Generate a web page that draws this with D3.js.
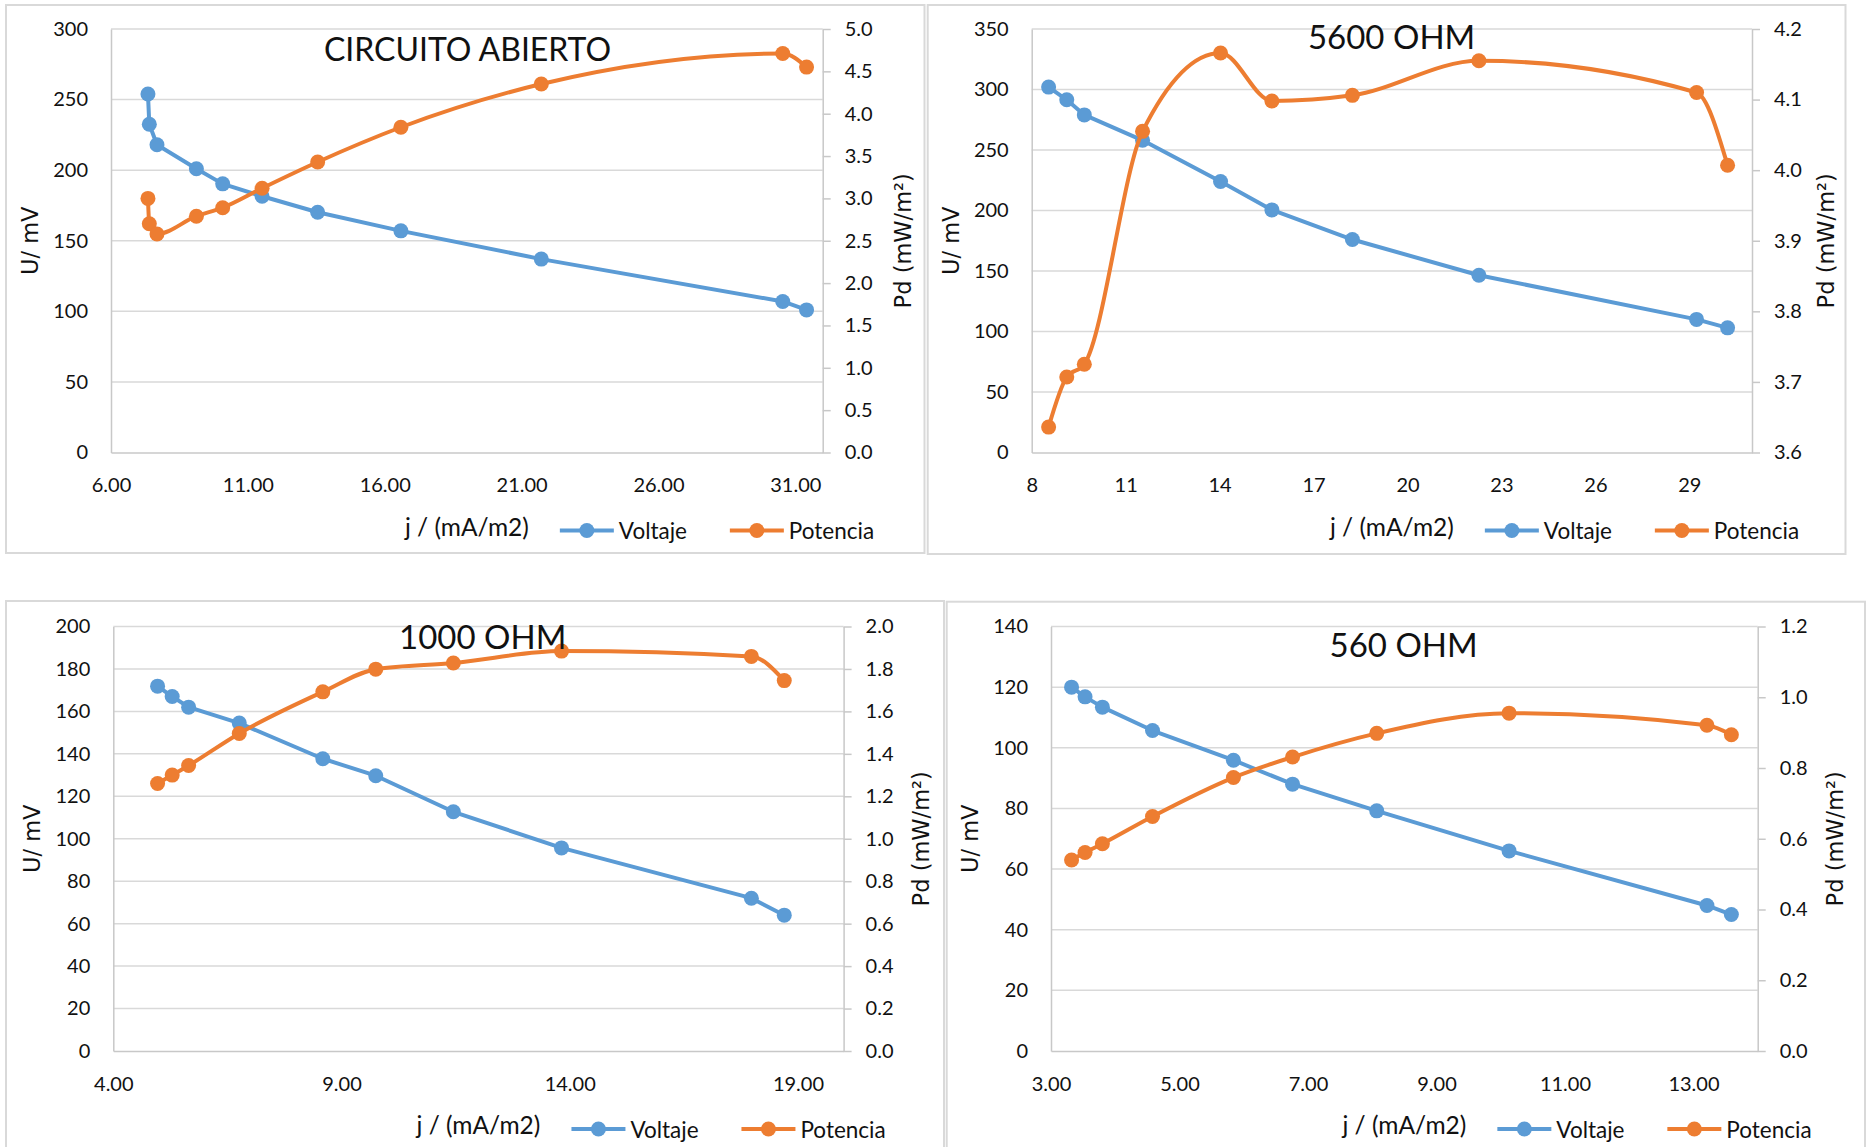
<!DOCTYPE html>
<html>
<head>
<meta charset="utf-8">
<script src="https://cdn.jsdelivr.net/npm/d3@7/dist/d3.min.js"></script>
<style>
  body { margin: 0; background: #fff; }
  svg { display: block; }
</style>
</head>
<body>
<svg id="chart" width="1872" height="1147"></svg>
<script>
// ---- Circuito abierto ----
const jOpen = [7.35, 7.40, 7.68, 9.12, 10.08, 11.52, 13.55, 16.59, 21.72, 30.54, 31.41];
const uOpen = [254, 232.5, 218, 201, 190.3, 181.5, 170.2, 157, 137, 107, 101];
const pOpen = [3.00, 2.70, 2.58, 2.79, 2.89, 3.12, 3.43, 3.84, 4.35, 4.71, 4.55];
const xTicksOpen = [6, 11, 16, 21, 26, 31];
const uTicksOpen = [0, 50, 100, 150, 200, 250, 300];
const pTicksOpen = [0, 0.5, 1, 1.5, 2, 2.5, 3, 3.5, 4, 4.5, 5];

// ---- 5600 ohm ----
const j5600 = [8.54, 9.12, 9.68, 11.54, 14.03, 15.67, 18.24, 22.28, 29.23, 30.22];
const u5600 = [302, 291.5, 279, 258, 224, 200.5, 176, 146.5, 110, 103];
const p5600 = [3.636, 3.707, 3.725, 4.055, 4.166, 4.098, 4.106, 4.155, 4.110, 4.007];
const xTicks5600 = [8, 11, 14, 17, 20, 23, 26, 29];
const uTicks5600 = [0, 50, 100, 150, 200, 250, 300, 350];
const pTicks5600 = [3.6, 3.7, 3.8, 3.9, 4.0, 4.1, 4.2];

// ---- 1000 ohm ----
const j1000 = [4.97, 5.29, 5.65, 6.76, 8.59, 9.75, 11.45, 13.82, 17.98, 18.70];
const u1000 = [171.9, 167, 162, 154.5, 137.7, 129.7, 112.7, 95.7, 72, 64];
const p1000 = [1.26, 1.30, 1.345, 1.496, 1.692, 1.799, 1.828, 1.884, 1.859, 1.745];
const xTicks1000 = [4, 9, 14, 19];
const uTicks1000 = [0, 20, 40, 60, 80, 100, 120, 140, 160, 180, 200];
const pTicks1000 = [0, 0.2, 0.4, 0.6, 0.8, 1.0, 1.2, 1.4, 1.6, 1.8, 2.0];

// ---- 560 ohm ----
const j560 = [3.32, 3.53, 3.80, 4.58, 5.84, 6.76, 8.07, 10.13, 13.21, 13.59];
const u560 = [120, 116.8, 113.4, 105.7, 95.9, 88, 79.2, 66, 48, 45];
const p560 = [0.540, 0.561, 0.586, 0.663, 0.773, 0.831, 0.898, 0.955, 0.921, 0.894];
const xTicks560 = [3, 5, 7, 9, 11, 13];
const uTicks560 = [0, 20, 40, 60, 80, 100, 120, 140];
const pTicks560 = [0, 0.2, 0.4, 0.6, 0.8, 1.0, 1.2];

const seriesNames = ["Voltaje", "Potencia"];
const xTitle = "j / (mA/m2)";
const uTitle = "U/ mV";
const pTitle = "Pd (mW/m\u00B2)";

const BLUE = "#5B9BD5";
const ORANGE = "#ED7D31";
const GRID = "#D9D9D9";
const AXIS = "#C8C8C8";
const TEXT = "#111";
const TICK_FONT = "Lato, 'Liberation Sans', sans-serif";
const TITLE_FONT = "'DejaVu Sans', Verdana, sans-serif";

const panels = [
  { title: "CIRCUITO ABIERTO", j: jOpen, u: uOpen, p: pOpen,
    xDomain: [6, 32], xTicks: xTicksOpen, xFmt: d3.format(".2f"),
    uDomain: [0, 300], uTicks: uTicksOpen,
    pDomain: [0, 5], pTicks: pTicksOpen, pFmt: d3.format(".1f"),
    box: [6, 5, 924.5, 553], plot: { L: 111, R: 822.7, T: 29, B: 452.5 },
    titlePos: [467.5, 61], titleSize: 32, pTitleDx: 80 },
  { title: "5600 OHM", j: j5600, u: u5600, p: p5600,
    xDomain: [8, 31], xTicks: xTicks5600, xFmt: d3.format("d"),
    uDomain: [0, 350], uTicks: uTicks5600,
    pDomain: [3.6, 4.2], pTicks: pTicks5600, pFmt: d3.format(".1f"),
    box: [927.7, 5, 1845.5, 554], plot: { L: 1031.7, R: 1752, T: 29, B: 452.5 },
    titlePos: [1391.6, 49], titleSize: 33, pTitleDx: 74 },
  { title: "1000 OHM", j: j1000, u: u1000, p: p1000,
    xDomain: [4, 20], xTicks: xTicks1000, xFmt: d3.format(".2f"),
    uDomain: [0, 200], uTicks: uTicks1000,
    pDomain: [0, 2], pTicks: pTicks1000, pFmt: d3.format(".1f"),
    box: [6, 601, 944, 1170], plot: { L: 113.3, R: 843.6, T: 626.5, B: 1051 },
    titlePos: [482.7, 649], titleSize: 33, pTitleDx: 77 },
  { title: "560 OHM", j: j560, u: u560, p: p560,
    xDomain: [3, 14], xTicks: xTicks560, xFmt: d3.format(".2f"),
    uDomain: [0, 140], uTicks: uTicks560,
    pDomain: [0, 1.2], pTicks: pTicks560, pFmt: d3.format(".1f"),
    box: [946.7, 601.7, 1865, 1170], plot: { L: 1051, R: 1757.7, T: 626.5, B: 1051 },
    titlePos: [1403.6, 657.4], titleSize: 33, pTitleDx: 77 }
];

const svg = d3.select("#chart");

function styleAxis(sel) {
  sel.attr("font-family", TICK_FONT).attr("font-size", 20);
  sel.select(".domain").attr("stroke", AXIS).attr("stroke-width", 1.5);
  sel.selectAll(".tick line").attr("stroke", AXIS).attr("stroke-width", 1.5);
  sel.selectAll(".tick text").attr("fill", TEXT);
}

panels.forEach(cfg => {
  const g = svg.append("g");
  const [bx0, by0, bx1, by1] = cfg.box;
  g.append("rect")
    .attr("x", bx0).attr("y", by0)
    .attr("width", bx1 - bx0).attr("height", by1 - by0)
    .attr("fill", "#fff").attr("stroke", GRID).attr("stroke-width", 2);

  const { L, R, T, B } = cfg.plot;
  const x = d3.scaleLinear().domain(cfg.xDomain).range([L, R]);
  const yU = d3.scaleLinear().domain(cfg.uDomain).range([B, T]);
  const yP = d3.scaleLinear().domain(cfg.pDomain).range([B, T]);

  // horizontal gridlines on the voltage scale
  g.append("g").selectAll("line")
    .data(cfg.uTicks.filter(v => v > cfg.uDomain[0]))
    .join("line")
    .attr("x1", L).attr("x2", R)
    .attr("y1", d => yU(d)).attr("y2", d => yU(d))
    .attr("stroke", GRID).attr("stroke-width", 1.5);

  // left axis (voltage)
  g.append("g").attr("transform", `translate(${L},0)`)
    .call(d3.axisLeft(yU).tickValues(cfg.uTicks).tickSize(0).tickSizeOuter(0)
      .tickPadding(23).tickFormat(d3.format("d")))
    .call(styleAxis);

  // right axis (power)
  g.append("g").attr("transform", `translate(${R},0)`)
    .call(d3.axisRight(yP).tickValues(cfg.pTicks).tickSize(8).tickSizeOuter(0)
      .tickPadding(14).tickFormat(cfg.pFmt))
    .call(styleAxis);

  // bottom axis (current density)
  const ax = g.append("g").attr("transform", `translate(0,${B})`)
    .call(d3.axisBottom(x).tickValues(cfg.xTicks).tickSize(0).tickSizeOuter(0)
      .tickFormat(cfg.xFmt))
    .call(styleAxis);
  ax.selectAll(".tick text").attr("y", 32.5).attr("dy", "0.35em");

  // axis titles
  g.append("text")
    .attr("transform", `translate(${L - 81},${(T + B) / 2}) rotate(-90)`)
    .attr("text-anchor", "middle").attr("dominant-baseline", "central")
    .attr("font-family", TITLE_FONT).attr("font-size", 22.5).attr("fill", TEXT)
    .text(uTitle);
  g.append("text")
    .attr("transform", `translate(${R + cfg.pTitleDx},${(T + B) / 2}) rotate(-90)`)
    .attr("text-anchor", "middle").attr("dominant-baseline", "central")
    .attr("font-family", TITLE_FONT).attr("font-size", 22.5).attr("fill", TEXT)
    .text(pTitle);

  const cx = (L + R) / 2;
  g.append("text")
    .attr("x", cx).attr("y", B + 73.5).attr("dominant-baseline", "central")
    .attr("text-anchor", "middle")
    .attr("font-family", TICK_FONT).attr("font-size", 24.5).attr("fill", TEXT)
    .text(xTitle);

  // series: straight voltage segments, smoothed power curve
  const lineU = d3.line().x((d, i) => x(cfg.j[i])).y(d => yU(d));
  const lineP = d3.line().x((d, i) => x(cfg.j[i])).y(d => yP(d))
    .curve(d3.curveMonotoneX);

  g.append("path").datum(cfg.u).attr("d", lineU)
    .attr("fill", "none").attr("stroke", BLUE).attr("stroke-width", 4)
    .attr("stroke-linejoin", "round");
  g.append("g").selectAll("circle").data(cfg.u).join("circle")
    .attr("cx", (d, i) => x(cfg.j[i])).attr("cy", d => yU(d))
    .attr("r", 7.5).attr("fill", BLUE);

  g.append("path").datum(cfg.p).attr("d", lineP)
    .attr("fill", "none").attr("stroke", ORANGE).attr("stroke-width", 4)
    .attr("stroke-linejoin", "round");
  g.append("g").selectAll("circle").data(cfg.p).join("circle")
    .attr("cx", (d, i) => x(cfg.j[i])).attr("cy", d => yP(d))
    .attr("r", 7.5).attr("fill", ORANGE);

  // chart title
  g.append("text")
    .attr("x", cfg.titlePos[0]).attr("y", cfg.titlePos[1])
    .attr("text-anchor", "middle")
    .attr("font-family", TICK_FONT).attr("font-size", cfg.titleSize).attr("fill", TEXT)
    .text(cfg.title);

  // legend
  const ly = B + 78;
  [[BLUE, seriesNames[0], cx + 120], [ORANGE, seriesNames[1], cx + 290]].forEach(([col, name, mx]) => {
    g.append("line").attr("x1", mx - 27).attr("x2", mx + 27)
      .attr("y1", ly).attr("y2", ly)
      .attr("stroke", col).attr("stroke-width", 4);
    g.append("circle").attr("cx", mx).attr("cy", ly).attr("r", 7.5).attr("fill", col);
    g.append("text").attr("x", mx + 32).attr("y", ly)
      .attr("dominant-baseline", "central")
      .attr("font-family", TICK_FONT).attr("font-size", 22.5).attr("fill", TEXT)
      .text(name);
  });
});
</script>
</body>
</html>
